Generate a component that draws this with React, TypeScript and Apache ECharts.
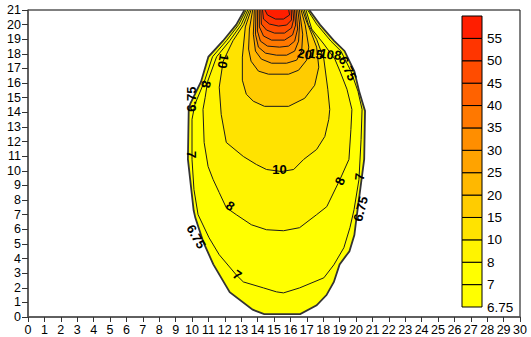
import React, { useEffect, useRef } from "react";
import * as echarts from "echarts";

const LEVEL_LABELS = ["6.75", "7", "8", "10", "15", "20", "25", "30", "35", "40", "45", "50", "55"];
const BIN_COLORS = ["#FFFF00", "#FFFF00", "#FFF400", "#FFE300", "#FFCC00", "#FFB800", "#FFA300", "#FF8E00", "#FF7800", "#FF6200", "#FF4C00", "#FF3500", "#FF1E00"];

const C675 = [[13.2,21],[12.7,20.0],[11.9,18.9],[11.0,17.8],[10.55,16.1],[9.9,14.6],[9.8,14.2],[9.75,10.8],[10.1,7.3],[10.2,6.8],[10.7,5.1],[11.3,3.6],[12.3,1.7],[13.7,0.5],[14.4,0.2],[16.6,0.2],[17.6,0.8],[18.2,1.5],[18.65,2.4],[19.0,3.6],[19.6,4.5],[19.9,5.6],[20.0,6.5],[20.5,10.8],[20.55,14.1],[20.2,15.4],[19.9,16.8],[19.3,18.2],[18.65,18.9],[17.8,20.0],[17.15,21]];
const C7 = [[13.3,21],[12.85,20.0],[12.1,18.9],[11.25,17.8],[10.75,16.1],[10.18,14.55],[10.0,13.52],[10.0,10.78],[10.12,8.72],[10.37,7.0],[11.04,5.42],[11.66,4.26],[12.7,2.88],[13.13,2.4],[14.36,1.99],[15.15,1.72],[15.58,1.65],[16.56,1.99],[18.04,2.68],[18.65,3.57],[19.26,4.74],[19.63,6.11],[19.88,7.34],[20.18,9.4],[20.31,12.15],[20.37,14.2],[20.12,15.44],[19.69,16.82],[19.08,18.19],[18.47,18.87],[17.6,20.04],[17.05,21]];
const C8 = [[13.4,21],[13.0,20.0],[12.3,18.9],[11.5,17.8],[10.95,16.1],[10.8,15.0],[10.67,14.2],[10.74,11.94],[10.98,10.3],[11.29,9.4],[11.66,8.51],[12.09,7.48],[12.7,7.0],[13.62,6.31],[14.54,5.97],[15.58,5.9],[16.56,6.11],[17.6,7.0],[18.22,7.55],[19.02,9.4],[19.57,10.78],[19.69,12.83],[19.75,14.2],[19.45,15.58],[19.02,16.82],[18.71,17.64],[18.04,18.67],[17.3,19.7],[16.95,21]];
const C10 = [[13.5,21],[13.15,20.0],[12.5,18.9],[11.9,17.5],[11.66,15.72],[11.78,13.86],[12.09,11.94],[13.13,10.98],[13.93,10.43],[14.54,10.09],[15.46,9.95],[16.2,10.09],[16.81,10.78],[17.6,11.46],[18.1,12.35],[18.34,13.52],[18.4,14.2],[18.28,15.58],[18.04,17.64],[17.6,19.0],[17.1,20.0],[16.85,21]];
const C15 = [[13.6,21],[13.25,19.84],[13.07,17.78],[13.07,16.2],[13.31,15.24],[13.74,14.76],[14.42,14.41],[15.89,14.41],[16.87,14.96],[17.48,15.85],[17.73,17.09],[17.6,18.46],[17.3,19.35],[16.95,20.32],[16.75,21]];
const C20 = [[13.7,21],[13.5,19.7],[13.45,18.33],[13.6,17.5],[14.05,16.82],[14.66,16.61],[15.89,16.61],[16.5,16.88],[16.99,17.57],[17.12,18.46],[17.0,19.3],[16.9,20.0],[16.65,21]];
const C25 = [[13.8,21],[13.74,19.35],[13.87,18.19],[14.23,17.64],[14.85,17.36],[15.77,17.36],[16.38,17.57],[16.69,18.19],[16.75,19.35],[16.55,21]];
const C30 = [[13.9,21],[13.87,19.35],[14.05,18.46],[14.48,18.05],[15.15,17.91],[15.77,17.91],[16.26,18.19],[16.5,18.87],[16.56,20.04],[16.45,21]];
const C35 = [[14.0,21],[13.99,19.56],[14.17,18.87],[14.6,18.53],[15.34,18.46],[15.89,18.53],[16.26,18.87],[16.44,19.7],[16.35,21]];
const C40 = [[14.1,21],[14.11,19.84],[14.36,19.22],[14.85,18.94],[15.64,18.94],[16.13,19.29],[16.32,19.97],[16.25,21]];
const C45 = [[14.2,21],[14.23,20.04],[14.54,19.63],[15.03,19.42],[15.64,19.42],[16.07,19.77],[16.2,20.38],[16.15,21]];
const C50 = [[14.3,21],[14.36,20.38],[14.72,20.04],[15.28,19.9],[15.77,19.97],[16.07,20.32],[16.05,21]];
const C55 = [[14.45,21],[14.6,20.66],[15.09,20.38],[15.58,20.38],[15.95,20.66],[15.9,21]];
const CONTOURS = [C675, C7, C8, C10, C15, C20, C25, C30, C35, C40, C45, C50, C55];

const LABEL_TEXT = ["10", "8", "8", "7", "6.75", "7", "10", "8", "6.75", "6.75", "7", "20", "15", "10", "8", "6.75"];
const LABEL_X = [15.34, 12.33, 19.02, 20.22, 20.28, 9.97, 11.9, 10.86, 9.94, 10.25, 12.76, 16.87, 17.55, 18.22, 18.9, 19.5];
const LABEL_Y = [10.09, 7.6, 9.3, 9.6, 7.4, 11.1, 17.5, 15.92, 14.9, 5.5, 2.88, 17.98, 17.98, 17.98, 17.91, 17.0];
const LABEL_ROT = [0, -35, 65, 85, 75, -90, -100, -100, 90, -60, -35, -10, -10, -10, -10, -65];

const FONT = "'Liberation Sans', Arial, sans-serif";

export default function App() {
  const ref = useRef<HTMLDivElement>(null);
  useEffect(() => {
    document.body.style.margin = "0";
    const chart = echarts.init(ref.current!, null, { renderer: "svg" });
    const option: any = {
      animation: false,
      grid: [
        { left: 28, top: 10, width: 492, height: 307, show: true, borderColor: "#000", borderWidth: 1 },
        { left: 462, top: 16, width: 20, height: 291 },
      ],
      xAxis: [
        {
          gridIndex: 0, type: "value", min: 0, max: 30, interval: 1,
          axisLine: { show: true, lineStyle: { color: "#555", width: 1.5 } },
          axisTick: { show: true, length: 5, lineStyle: { color: "#333" } },
          axisLabel: { color: "#000", fontSize: 12.5, margin: 6, fontFamily: FONT },
          splitLine: { show: false },
        },
        { gridIndex: 1, type: "value", min: 0, max: 1, show: false },
      ],
      yAxis: [
        {
          gridIndex: 0, type: "value", min: 0, max: 21, interval: 1,
          axisLine: { show: true, lineStyle: { color: "#555", width: 1.5 } },
          axisTick: { show: true, length: 6, lineStyle: { color: "#333" } },
          axisLabel: { color: "#000", fontSize: 12.5, margin: 7, fontFamily: FONT },
          splitLine: { show: false },
        },
        {
          gridIndex: 1, type: "value", min: 0, max: 13, interval: 1, position: "right",
          axisLine: { show: false }, axisTick: { show: false }, splitLine: { show: false },
          axisLabel: {
            color: "#000", fontSize: 13.5, margin: 5, fontFamily: FONT,
            formatter: (v: number) => (LEVEL_LABELS[v] !== undefined ? LEVEL_LABELS[v] : ""),
          },
        },
      ],
      series: [
        {
          type: "custom", xAxisIndex: 0, yAxisIndex: 0, silent: true, clip: true, z: 2,
          data: CONTOURS.map((_, i) => [15, 10, i]),
          renderItem: (params: any, api: any) => {
            const i = params.dataIndex;
            const pts = CONTOURS[i].map((p) => api.coord(p));
            return {
              type: "group",
              children: [
                { type: "polygon", shape: { points: pts }, style: { fill: BIN_COLORS[i], stroke: null } },
                { type: "polyline", shape: { points: pts }, style: { fill: null, stroke: i === 0 ? "#333" : "#1a1a1a", lineWidth: i === 0 ? 1.8 : 1 } },
              ],
            };
          },
        },
        {
          type: "custom", xAxisIndex: 0, yAxisIndex: 0, silent: true, clip: false, z: 3,
          data: LABEL_X.map((x, i) => [x, LABEL_Y[i]]),
          renderItem: (params: any, api: any) => {
            const i = params.dataIndex;
            const p = api.coord([api.value(0), api.value(1)]);
            return {
              type: "text", x: p[0], y: p[1], rotation: (LABEL_ROT[i] * Math.PI) / 180,
              style: { text: LABEL_TEXT[i], fill: "#000", fontSize: 13, fontWeight: "bold", fontFamily: FONT, align: "center", verticalAlign: "middle" },
            };
          },
        },
        {
          type: "custom", xAxisIndex: 1, yAxisIndex: 1, silent: true, z: 2,
          data: BIN_COLORS.map((_, i) => [0.5, i + 0.5]),
          renderItem: (params: any, api: any) => {
            const i = params.dataIndex;
            const p0 = api.coord([0, i]);
            const p1 = api.coord([1, i + 1]);
            return {
              type: "rect",
              shape: { x: p0[0], y: p1[1], width: p1[0] - p0[0], height: p0[1] - p1[1] },
              style: { fill: BIN_COLORS[i], stroke: "#000", lineWidth: 1 },
            };
          },
        },
      ],
    };
    chart.setOption(option);
    return () => chart.dispose();
  }, []);
  return <div ref={ref} style={{ width: 531, height: 337 }} />;
}
